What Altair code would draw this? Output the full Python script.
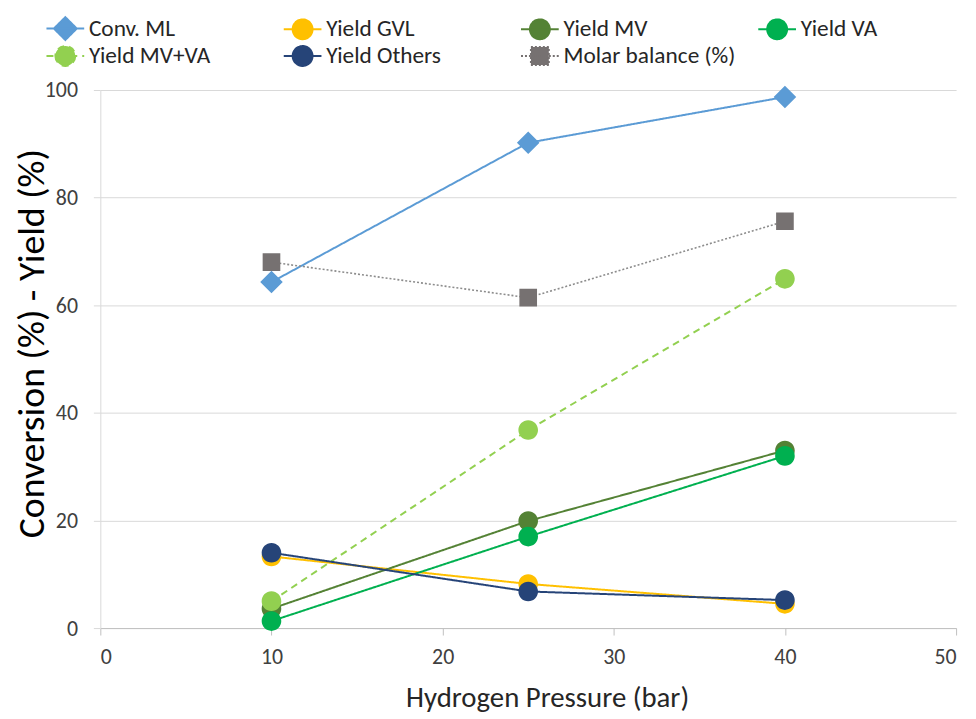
import altair as alt
import pandas as pd

pressure = [10, 25, 40]
series_names = ["Conv. ML", "Yield GVL", "Yield MV", "Yield VA",
                "Yield MV+VA", "Yield Others", "Molar balance (%)"]
conv_ml = [64.3, 90.2, 98.7]
yield_gvl = [13.3, 8.2, 4.5]
yield_mv = [3.6, 19.9, 33.0]
yield_va = [1.3, 17.0, 32.0]
yield_mv_va = [5.0, 36.8, 64.9]
yield_others = [14.0, 6.8, 5.2]
molar_balance = [68.0, 61.4, 75.6]

x_ticks = [0, 10, 20, 30, 40, 50]
y_ticks = [0, 20, 40, 60, 80, 100]

colors = ["#5B9BD5", "#FFC000", "#548235", "#00B050", "#92D050", "#264478", "#767171"]
dashes = [[1, 0], [1, 0], [1, 0], [1, 0], [7, 5], [1, 0], [2, 2]]

# marker shapes; the leading horizontal segment only shows in the legend (stroked there)
seg = "M-1.9,0H1.9"
circle = seg + "M-1,0A1,1 0 1,0 1,0A1,1 0 1,0 -1,0Z"
diamond = seg + "M0,-1.15L1.15,0L0,1.15L-1.15,0Z"
square = seg + "M-0.9,-0.9H0.9V0.9H-0.9Z"
shapes = [diamond, circle, circle, circle, circle, circle, square]

values = [conv_ml, yield_gvl, yield_mv, yield_va, yield_mv_va, yield_others, molar_balance]
rows = []
for name, vals in zip(series_names, values):
    for p, v in zip(pressure, vals):
        rows.append({"series": name, "pressure": p, "value": v})
df = pd.DataFrame(rows)

FONT = "Carlito, Calibri, Lato, sans-serif"

color_enc = alt.Color("series:N", sort=series_names,
                      scale=alt.Scale(domain=series_names, range=colors),
                      legend=alt.Legend(
                          title=None, orient="none", direction="horizontal",
                          columns=4, legendX=-47, legendY=-74,
                          gridAlign="all", columnPadding=18, rowPadding=-4,
                          labelFontSize=23.5, labelFont=FONT, labelColor="#262626",
                          symbolSize=400, symbolStrokeWidth=2, labelOffset=12,
                          labelLimit=300))
shape_enc = alt.Shape("series:N", sort=series_names,
                      scale=alt.Scale(domain=series_names, range=shapes))
dash_enc = alt.StrokeDash("series:N", sort=series_names,
                          scale=alt.Scale(domain=series_names, range=dashes))

x_enc = alt.X("pressure:Q", title="Hydrogen Pressure  (bar)",
              scale=alt.Scale(domain=[0, 50], nice=False),
              axis=alt.Axis(values=x_ticks, grid=False, domainColor="#BFBFBF",
                            tickColor="#BFBFBF", tickSize=7, labelPadding=12,
                            labelFontSize=22, labelFont=FONT, labelColor="#404040",
                            titleFontSize=29, titleFont=FONT, titleColor="#262626",
                            titleFontWeight="normal", titleX=450, titleY=56,
                            titleAlign="center", titleBaseline="top"))
y_enc = alt.Y("value:Q", title="Conversion (%) - Yield (%)",
              scale=alt.Scale(domain=[0, 100], nice=False),
              axis=alt.Axis(values=y_ticks, grid=True, gridColor="#D9D9D9",
                            domainColor="#D9D9D9", tickColor="#D9D9D9", tickSize=7,
                            labelPadding=16, labelFontSize=22, labelFont=FONT,
                            labelColor="#404040", titleFontSize=38, titleFont=FONT,
                            titleColor="#000000", titleFontWeight="normal",
                            titleX=-49, titleY=255, titleAngle=270,
                            titleAlign="center", titleBaseline="bottom"))

main_df = df[df["series"] != "Molar balance (%)"]
mb_df = df[df["series"] == "Molar balance (%)"]

lines = alt.Chart(main_df).mark_line(strokeWidth=2).encode(
    x=x_enc, y=y_enc, color=color_enc, strokeDash=dash_enc,
    detail="series:N")

mb_line = alt.Chart(mb_df).mark_line(strokeWidth=1.6, color="#8C8C8C",
                                     strokeDash=[2, 2]).encode(x=x_enc, y=y_enc)

points = alt.Chart(df).mark_point(filled=True, size=390, opacity=1, strokeWidth=0).encode(
    x=x_enc, y=y_enc, color=color_enc, shape=shape_enc)

chart = alt.layer(lines, mb_line, points).properties(
    width=862, height=542,
    autosize=alt.AutoSizeParams(type="none"),
    padding={"left": 93, "top": 80, "right": 12, "bottom": 89}
).configure_view(stroke=None)

chart.save("out.html", embed_options={"renderer": "svg", "actions": False})
